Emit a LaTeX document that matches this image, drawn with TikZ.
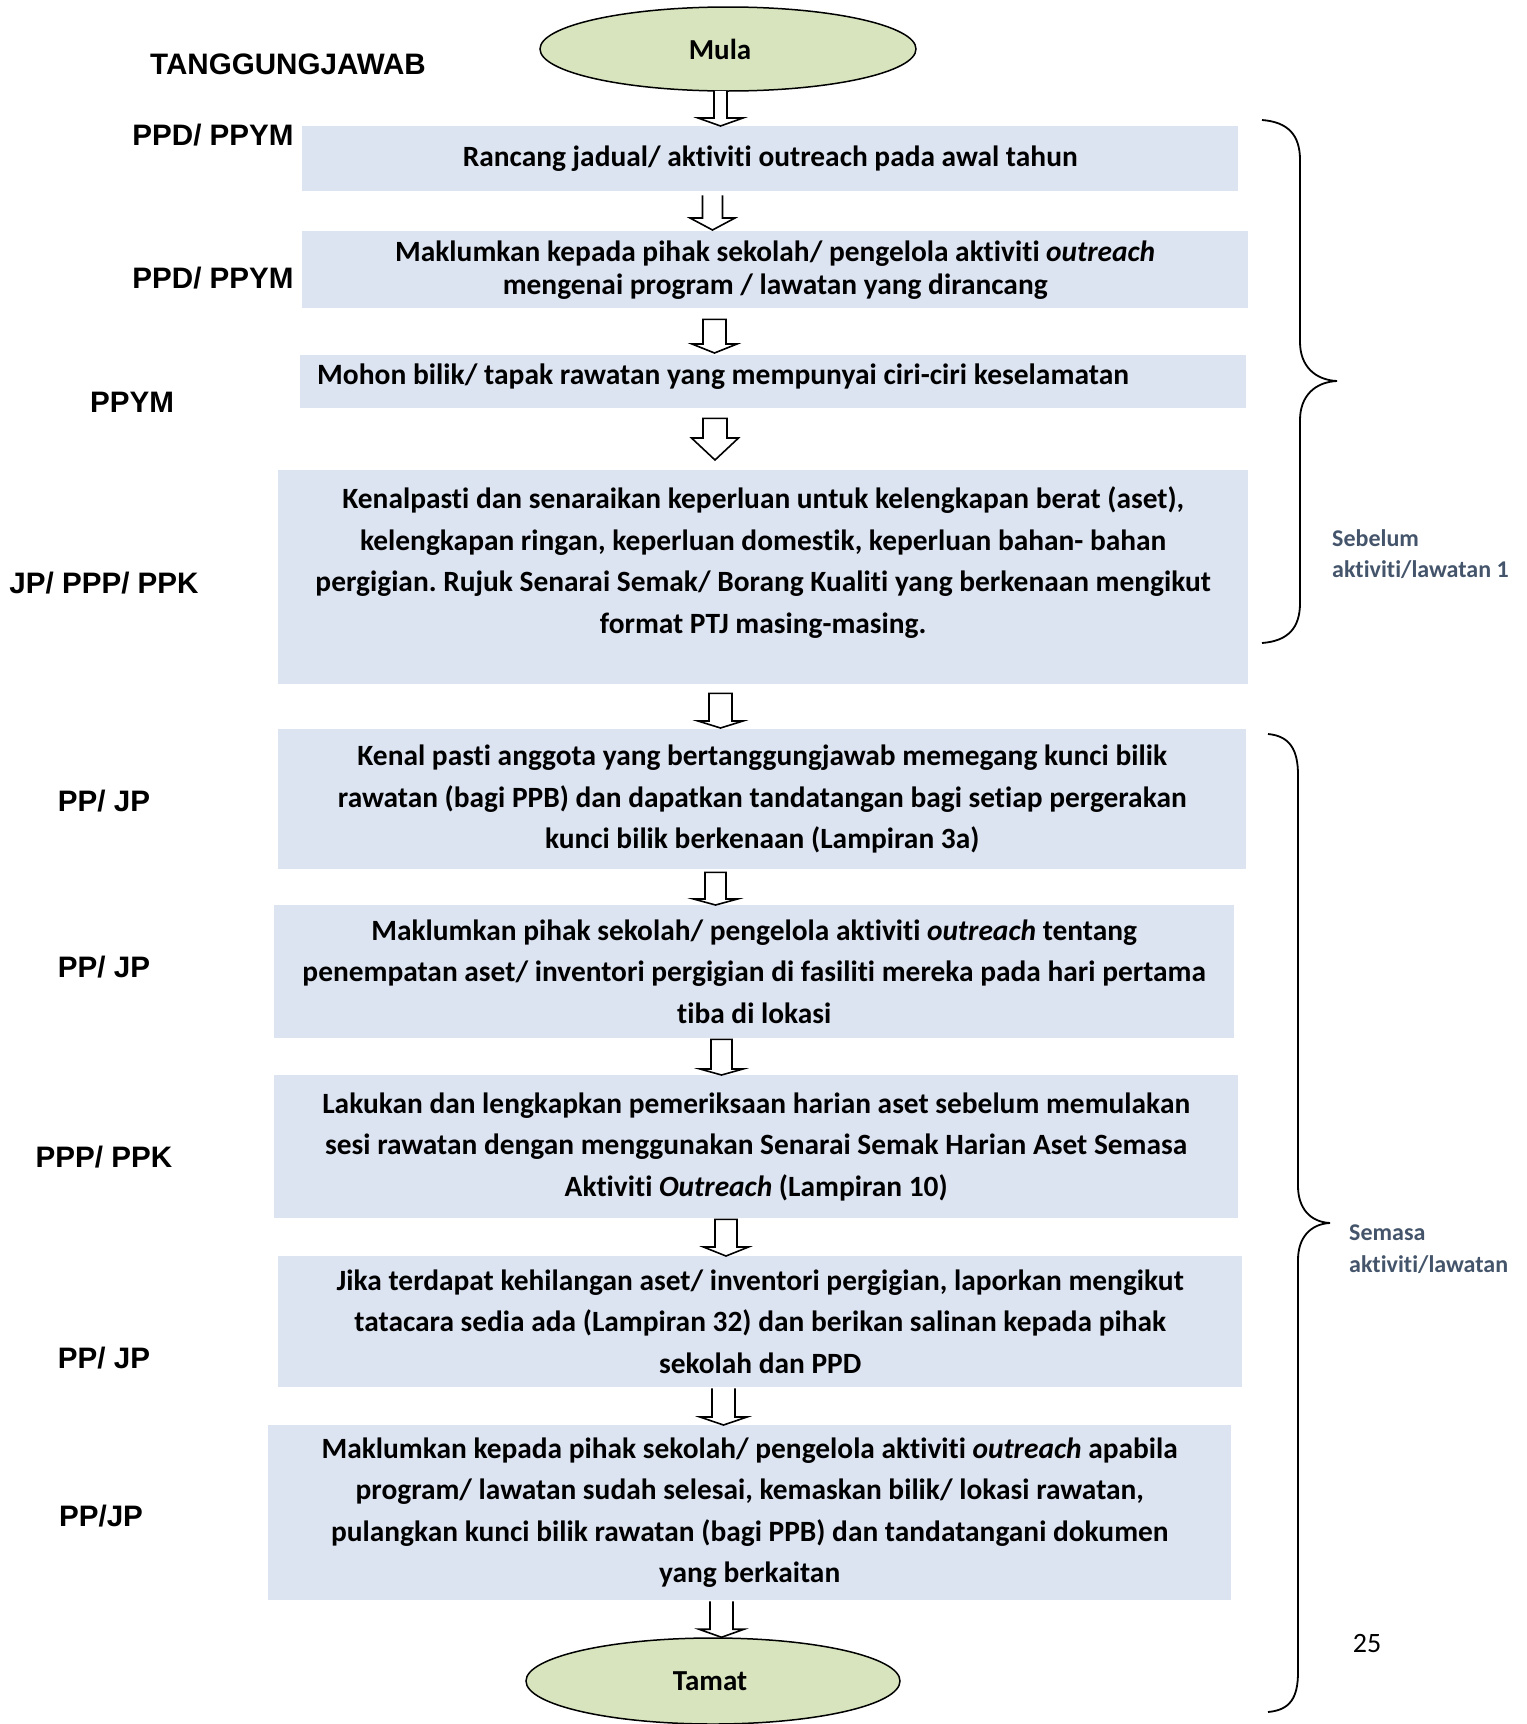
\documentclass[tikz,border=0pt]{standalone}
\usepackage{fontspec}
\setmainfont{Carlito}[Ligatures=NoCommon]
\newfontfamily\arialfont{Liberation Sans}
\usetikzlibrary{calc,shapes.geometric}
\frenchspacing

\definecolor{boxblue}{RGB}{220,227,241}
\definecolor{startgreen}{RGB}{215,228,189}
\definecolor{notegray}{RGB}{68,84,106}

\def\arrclose{}
\tikzset{
	arr x/.store in=\arrx,
	arr shaft/.store in=\arrsh,
	arr head/.store in=\arrhd,
	arr len/.store in=\arrln,
	arr gap/.store in=\arrgp,
	arr end/.store in=\arren,
	arr closed/.code={\def\arrclose{-- cycle}},
	arr shaft=11pt, arr head=22.5pt, arr len=8pt, arr gap=0pt, arr end=0pt,
	% hollow block arrow from the bottom of one node to the top of the next
	hollowarrow/.style={draw=black, fill=white, line width=1.6pt,
			to path={let \p1=(\tikztostart.south), \p2=(\tikztotarget.north) in
					(\arrx-\arrsh,\y1-\arrgp) -- (\arrx-\arrsh,\y2+\arren+\arrln)
					-- (\arrx-\arrhd,\y2+\arren+\arrln) -- (\arrx,\y2+\arren)
					-- (\arrx+\arrhd,\y2+\arren+\arrln) -- (\arrx+\arrsh,\y2+\arren+\arrln)
					-- (\arrx+\arrsh,\y1-\arrgp) \arrclose}},
	terminal/.style={ellipse, draw=black, line width=1.5pt, fill=startgreen,
			inner sep=0pt, font=\bfseries\fontsize{29}{34}\selectfont},
	stepbox/.style={fill=boxblue, inner sep=0pt, align=center, anchor=north west,
			font=\bfseries\fontsize{29.4}{41.5}\selectfont},
	resp/.style={anchor=base, inner sep=0pt, font=\arialfont\bfseries\fontsize{29.6}{34}\selectfont},
	phase/.style={anchor=north west, inner sep=0pt, align=left, text=notegray,
			font=\bfseries\fontsize{24}{31.5}\selectfont},
	brace/.style={draw=black, line width=1.8pt}
}

\begin{document}
\begin{tikzpicture}[x=1pt, y=-1pt]

	% Fix the page size
	\useasboundingbox (0,0) rectangle (1526,1724);

	% Start and end
	\node[terminal, minimum width=376pt, minimum height=84pt] (mula) at (728,49) {Mula\kern16pt};
	\node[terminal, minimum width=374pt, minimum height=86pt] (tamat) at (713,1681) {Tamat\kern6pt};

	% Steps
	\node[stepbox, minimum width=936pt, minimum height=65pt] (b1) at (302,126)
		{Rancang jadual/ aktiviti outreach pada awal tahun};
	\node[stepbox, minimum width=946pt, minimum height=77pt,
		font=\bfseries\fontsize{29.4}{33}\selectfont] (b2) at (302,231)
		{Maklumkan kepada pihak sekolah/ pengelola aktiviti \textit{outreach}\\
			mengenai program / lawatan yang dirancang};
	\node[stepbox, minimum height=53pt, text width=912pt, inner xsep=17pt, align=flush left,
		font=\bfseries\fontsize{29.5}{41.5}\selectfont,
		text height=22pt, text depth=17pt] (b3) at (300,355)
		{Mohon bilik/ tapak rawatan yang mempunyai ciri-ciri keselamatan};
	\node[stepbox, minimum width=970pt, minimum height=214pt] (b4) at (278,470)
		{Kenalpasti dan senaraikan keperluan untuk kelengkapan berat (aset),\\
			kelengkapan ringan, keperluan domestik, keperluan bahan- bahan\\
			pergigian. Rujuk Senarai Semak/ Borang Kualiti yang berkenaan mengikut\\
			format PTJ masing-masing.\\[-7pt] \mbox{}};
	\node[stepbox, minimum width=968pt, minimum height=140pt] (b5) at (278,729)
		{Kenal pasti anggota yang bertanggungjawab memegang kunci bilik\\
			rawatan (bagi PPB) dan dapatkan tandatangan bagi setiap pergerakan\\
			kunci bilik berkenaan (Lampiran 3a)};
	\node[stepbox, minimum width=960pt, minimum height=133pt] (b6) at (274,905)
		{Maklumkan pihak sekolah/ pengelola aktiviti \textit{outreach} tentang\\
			penempatan aset/ inventori pergigian di fasiliti mereka pada hari pertama\\
			tiba di lokasi};
	\node[stepbox, minimum width=964pt, minimum height=143pt] (b7) at (274,1075)
		{Lakukan dan lengkapkan pemeriksaan harian aset sebelum memulakan\\
			sesi rawatan dengan menggunakan Senarai Semak Harian Aset Semasa\\
			Aktiviti \textit{Outreach} (Lampiran 10)};
	\node[stepbox, minimum width=964pt, minimum height=131pt] (b8) at (278,1256)
		{Jika terdapat kehilangan aset/ inventori pergigian, laporkan mengikut\\
			tatacara sedia ada (Lampiran 32) dan berikan salinan kepada pihak\\
			sekolah dan PPD};
	\node[stepbox, minimum width=963pt, minimum height=175pt] (b9) at (268,1425)
		{Maklumkan kepada pihak sekolah/ pengelola aktiviti \textit{outreach} apabila\\
			program/ lawatan sudah selesai, kemaskan bilik/ lokasi rawatan,\\
			pulangkan kunci bilik rawatan (bagi PPB) dan tandatangani dokumen\\
			yang berkaitan};

	% Block arrows between the steps
	\draw[hollowarrow, arr x=720.5pt, arr shaft=6.5pt, arr gap=-1pt] (mula) to (b1);
	\draw[hollowarrow, arr x=712.5pt, arr shaft=10pt, arr len=12pt, arr gap=4pt, arr end=1pt] (b1) to (b2);
	\draw[hollowarrow, arr closed, arr x=714.5pt, arr shaft=11.5pt, arr len=9pt, arr gap=11pt, arr end=2pt] (b2) to (b3);
	\draw[hollowarrow, arr closed, arr x=715pt, arr shaft=12pt, arr head=23.5pt, arr len=22pt, arr gap=10pt, arr end=10pt] (b3) to (b4);
	\draw[hollowarrow, arr closed, arr x=720.5pt, arr shaft=11.5pt, arr len=7pt, arr gap=9pt, arr end=1pt] (b4) to (b5);
	\draw[hollowarrow, arr closed, arr x=715.5pt, arr shaft=10.5pt, arr head=22pt, arr len=6pt, arr gap=3pt] (b5) to (b6);
	\draw[hollowarrow, arr closed, arr x=721.5pt, arr shaft=10.5pt, arr head=21.5pt, arr len=6pt, arr gap=1pt] (b6) to (b7);
	\draw[hollowarrow, arr closed, arr x=726pt, arr len=9pt, arr gap=1pt] (b7) to (b8);
	\draw[hollowarrow, arr x=723.5pt, arr shaft=11.5pt, arr head=23.5pt, arr gap=1pt] (b8) to (b9);
	\draw[hollowarrow, arr x=721.5pt, arr shaft=11.5pt, arr gap=1pt] (b9) to (tamat);

	% Who is responsible
	\node[resp] (t0) at (288,74) {TANGGUNGJAWAB};
	\node[resp] (t1) at (213,145) {PPD/ PPYM};
	\node[resp] (t2) at (213,288) {PPD/ PPYM};
	\node[resp] (t3) at (132,412) {PPYM};
	\node[resp] (t4) at (104,593) {JP/ PPP/ PPK};
	\node[resp] (t5) at (104,811) {PP/ JP};
	\node[resp] (t6) at (104,977) {PP/ JP};
	\node[resp] (t7) at (104,1167) {PPP/ PPK};
	\node[resp] (t8) at (104,1368) {PP/ JP};
	\node[resp] (t9) at (101,1526) {PP/JP};

	% Braces for the two phases
	\draw[brace] (1262,120) .. controls (1288,122) and (1300,135) .. (1300,160)
		-- (1300,342) .. controls (1300,366) and (1315,380) .. (1337,381)
		.. controls (1315,382) and (1300,396) .. (1300,420)
		-- (1300,603) .. controls (1300,628) and (1288,641) .. (1262,643);
	\draw[brace] (1268,734) .. controls (1290,736) and (1298,750) .. (1298,775)
		-- (1298,1186) .. controls (1298,1208) and (1310,1222) .. (1330,1223)
		.. controls (1310,1224) and (1298,1238) .. (1298,1260)
		-- (1298,1672) .. controls (1298,1698) and (1290,1710) .. (1268,1712);

	\node[phase] (sebelum) at (1332,529) {Sebelum\\aktiviti/lawatan 1};
	\node[phase] (semasa) at (1349,1225) {Semasa\\aktiviti/lawatan};

	% Page number
	\node[font=\fontsize{28}{34}\selectfont] (pg) at (1367,1643) {25};

\end{tikzpicture}
\end{document}
